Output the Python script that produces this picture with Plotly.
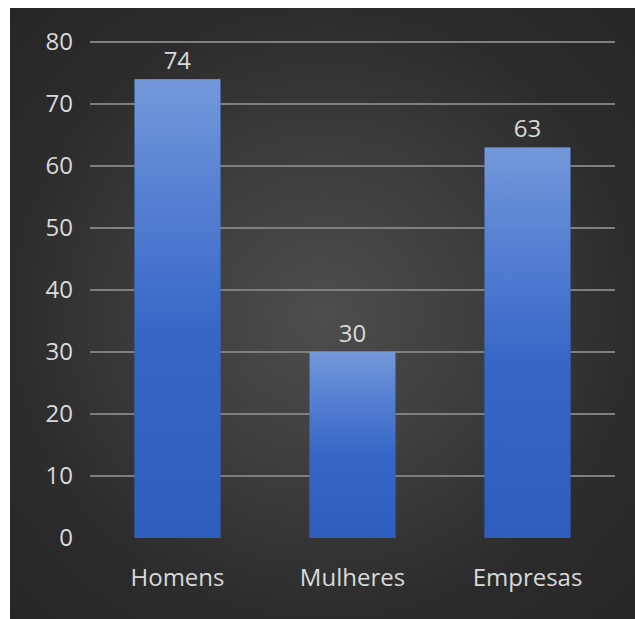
import numpy as np
import plotly.graph_objects as go

categories = ["Homens", "Mulheres", "Empresas"]
values = [74, 30, 63]
y_ticks = [0, 10, 20, 30, 40, 50, 60, 70, 80]

W, H = 635, 619
FONT = "Open Sans"
TXT = "#d9d9d9"

fig = go.Figure()

# background radial gradient (style only) covering the dark panel
n = 80
gx = np.linspace(0, 1, n)
gy = np.linspace(0, 1, n)
X, Y = np.meshgrid(gx, gy)
D = np.sqrt(((X - 0.5) / 0.75) ** 2 + ((Y - 0.5) / 0.75) ** 2)
fig.add_trace(go.Heatmap(
    x=gx, y=gy, z=D, zsmooth="best", showscale=False, hoverinfo="skip",
    colorscale=[[0, "#4d4d4d"], [0.35, "#3e3e3e"], [0.7, "#2c2c2c"], [1, "#262626"]],
    zmin=0, zmax=0.95, xaxis="x", yaxis="y",
))

idx = list(range(len(categories)))
bw = 0.49

fig.add_trace(go.Bar(
    x=idx, y=values, width=bw, marker=dict(color="#3b68c6", line=dict(width=0)),
    text=[str(v) for v in values], textposition="outside",
    textfont=dict(family=FONT, size=24, color=TXT), cliponaxis=False,
    xaxis="x2", yaxis="y2", hoverinfo="skip",
))

# vertical gradient overlay per bar, built from the data values
for i, v in zip(idx, values):
    fig.add_trace(go.Scatter(
        x=[i - bw / 2, i + bw / 2, i + bw / 2, i - bw / 2, i - bw / 2],
        y=[0, 0, v, v, 0], mode="lines", line=dict(width=0), fill="toself",
        fillgradient=dict(type="vertical", start=0, stop=v,
                          colorscale=[[0, "#2e5ebd"], [0.45, "#3667c7"], [0.75, "#5680d2"], [1, "#7499da"]]),
        xaxis="x2", yaxis="y2", hoverinfo="skip", showlegend=False,
    ))

ytop = 80.5
px_per = (538 - 42) / 80.0
top_px = 538 - ytop * px_per

fig.update_layout(
    width=W, height=H, margin=dict(l=0, r=0, t=0, b=0, autoexpand=False),
    paper_bgcolor="white", plot_bgcolor="rgba(0,0,0,0)", showlegend=False,
    xaxis=dict(domain=[10 / W, 1], range=[0, 1], visible=False, fixedrange=True, automargin=False),
    yaxis=dict(domain=[0, 1 - 8 / H], range=[0, 1], visible=False, fixedrange=True, automargin=False),
    xaxis2=dict(domain=[90 / W, 615 / W], range=[-0.5, 2.5], anchor="y2",
                tickvals=idx, ticktext=categories, showgrid=False, zeroline=False,
                showline=True, linecolor="rgba(0,0,0,0)", fixedrange=True, automargin=False,
                tickfont=dict(family=FONT, size=24, color=TXT), ticks="",
                ticklabelstandoff=18),
    yaxis2=dict(domain=[1 - 538 / H, 1 - top_px / H], range=[0, ytop], anchor="x2",
                tickvals=y_ticks, showgrid=True, gridcolor="#7f7f7f", gridwidth=2,
                zeroline=False, showline=False, fixedrange=True, automargin=False,
                tickfont=dict(family=FONT, size=24, color=TXT), ticks="",
                ticklabelstandoff=16),
)

post = (
    "document.documentElement.style.margin='0';"
    "document.body.style.margin='0';document.body.style.padding='0';"
)
fig.write_html("out.html", config={"displayModeBar": False}, post_script=post)
